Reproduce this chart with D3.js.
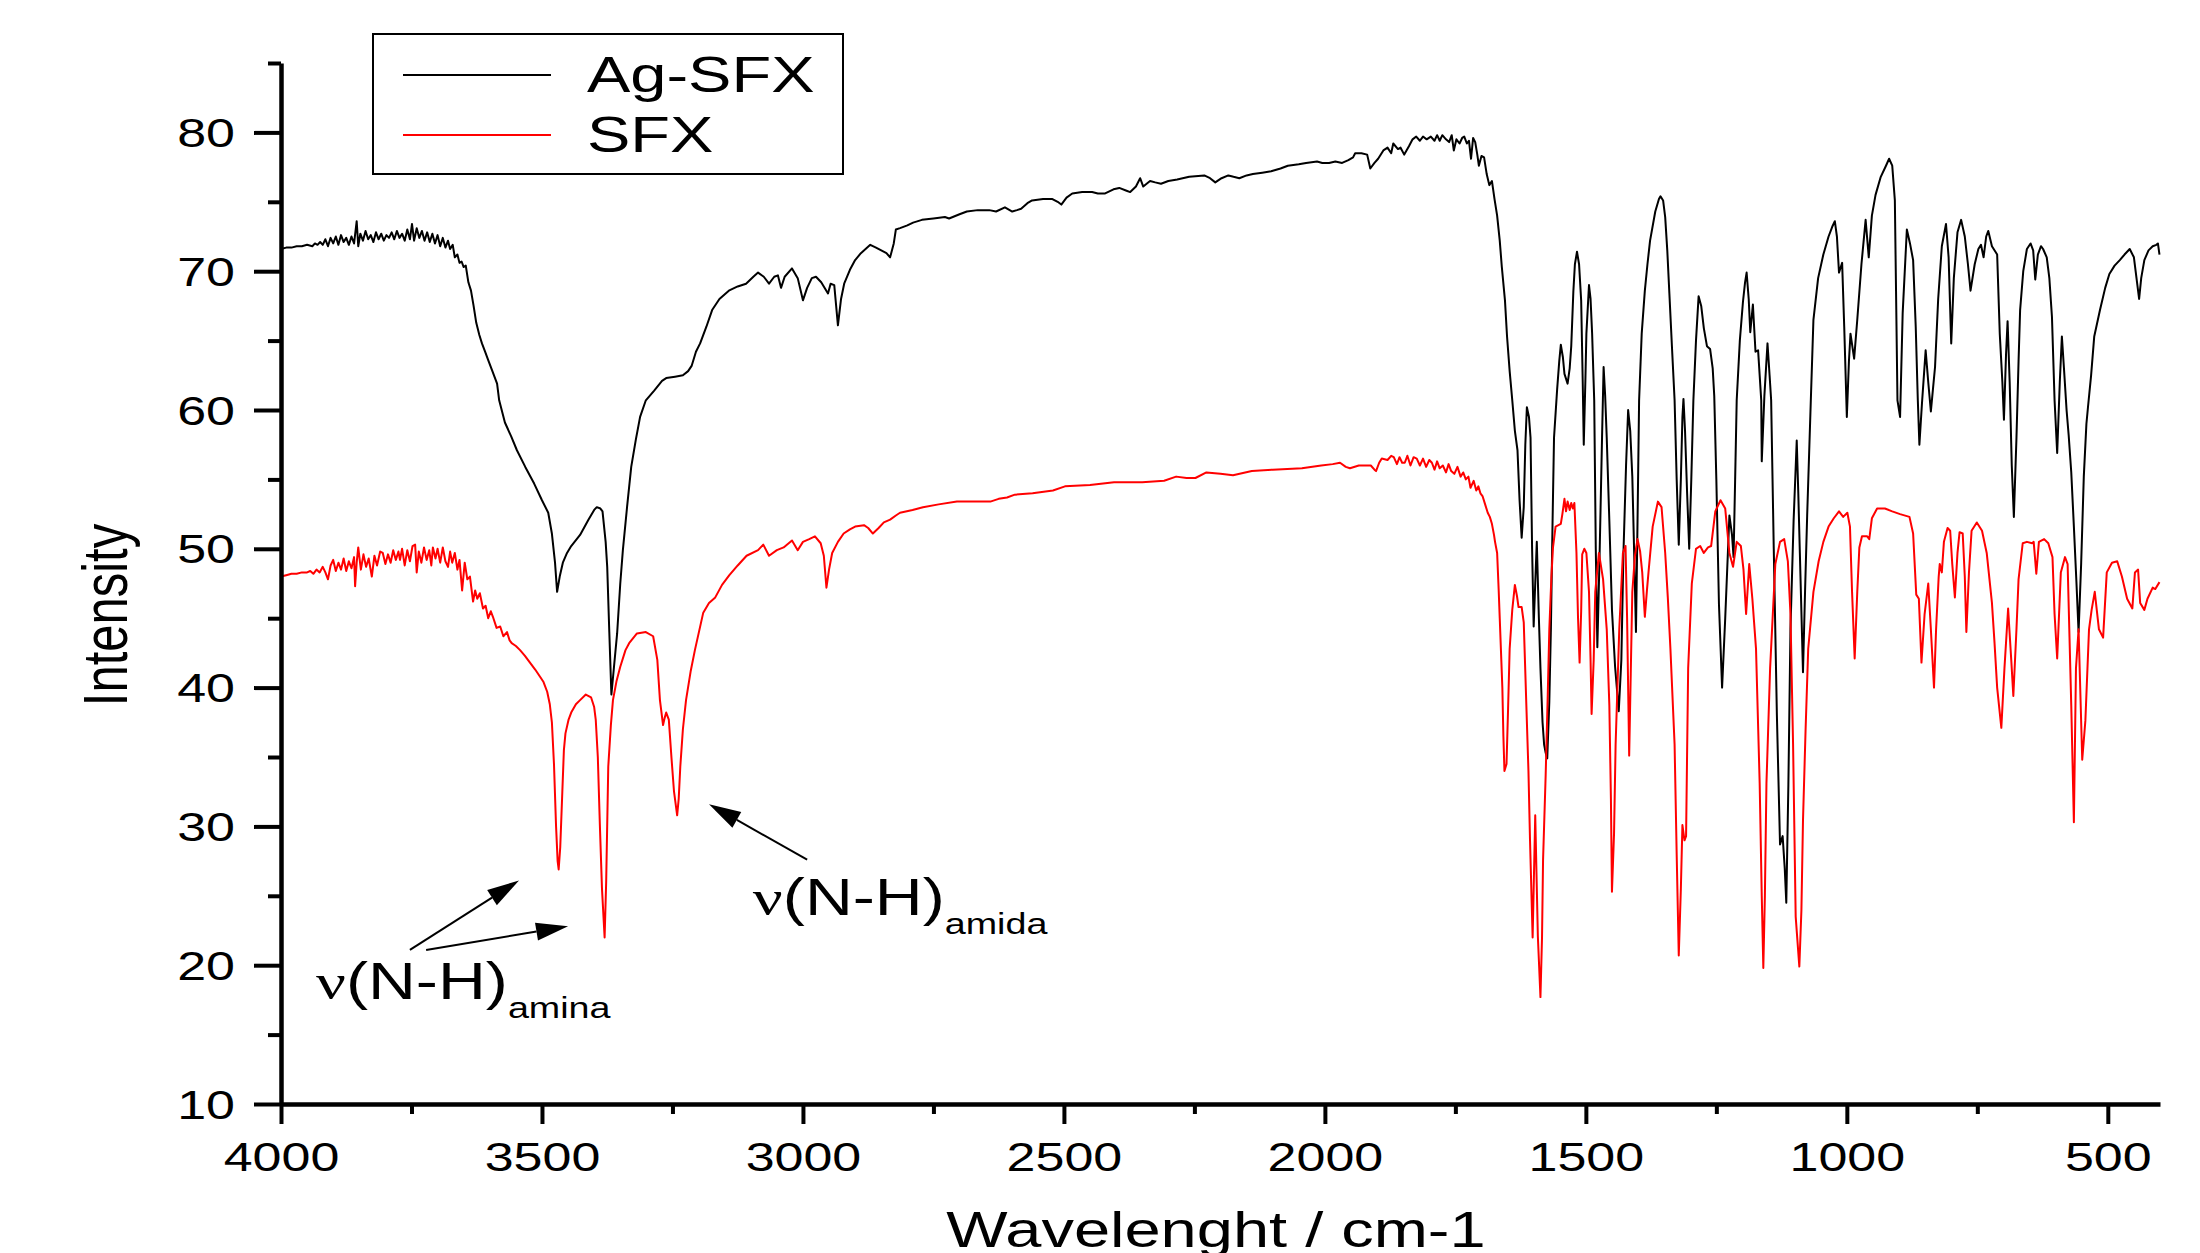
<!DOCTYPE html>
<html>
<head>
<meta charset="utf-8">
<script src="https://cdn.jsdelivr.net/npm/d3@7"></script>
<style>
  body { margin: 0; background: #fff; }
  text { font-family: "Liberation Sans", Arial, sans-serif; fill: #000; }
</style>
</head>
<body>
<svg id="chart" width="2200" height="1253"></svg>
<script>
// IR spectra, [wavenumber cm-1, intensity]
const agSFX = [
  [4000,71.6],[3990,71.7],[3980,71.7],[3970,71.8],[3960,71.8],[3950,71.9],[3940,71.8],[3935,72.0],[3930,71.9],[3925,72.1],
  [3920,71.9],[3915,72.3],[3910,71.8],[3905,72.4],[3900,72.0],[3895,72.5],[3890,71.9],[3885,72.6],[3880,72.1],[3875,72.4],
  [3870,71.9],[3865,72.5],[3860,72.0],[3855,73.6],[3852,71.8],[3848,72.7],[3843,72.2],[3838,72.9],[3833,72.3],[3828,72.6],
  [3823,72.1],[3818,72.8],[3813,72.3],[3808,72.7],[3803,72.2],[3798,72.6],[3793,72.4],[3788,72.8],[3783,72.3],[3778,72.9],
  [3773,72.4],[3768,72.7],[3763,72.2],[3758,73.0],[3753,72.3],[3749,73.4],[3745,72.2],[3740,73.1],[3735,72.4],[3730,72.9],
  [3725,72.2],[3720,72.8],[3715,72.1],[3710,72.7],[3705,72.0],[3700,72.6],[3695,71.8],[3690,72.4],[3685,71.7],[3680,72.2],
  [3676,71.6],[3671,71.9],[3667,71.0],[3662,71.2],[3658,70.6],[3654,70.7],[3650,70.3],[3646,70.4],[3641,69.2],[3636,68.6],
  [3631,67.5],[3626,66.3],[3620,65.4],[3615,64.8],[3609,64.2],[3603,63.6],[3595,62.8],[3586,61.9],[3582,60.7],[3571,59.1],
  [3559,58.1],[3548,57.1],[3532,55.9],[3515,54.7],[3500,53.5],[3488,52.6],[3481,51.1],[3475,49.0],[3471,46.9],[3466,48.0],
  [3460,49.0],[3452,49.7],[3444,50.2],[3427,51.0],[3411,52.1],[3400,52.8],[3395,53.0],[3388,52.9],[3384,52.7],[3378,50.5],
  [3375,48.7],[3371,44.0],[3367,39.5],[3362,41.5],[3356,43.9],[3350,47.5],[3345,49.9],[3337,53.0],[3329,55.9],[3320,57.9],
  [3312,59.5],[3301,60.7],[3285,61.4],[3270,62.1],[3262,62.3],[3245,62.4],[3230,62.5],[3220,62.8],[3213,63.2],[3205,64.2],
  [3197,64.8],[3185,66.0],[3174,67.2],[3160,68.0],[3142,68.6],[3125,68.9],[3109,69.1],[3095,69.6],[3086,69.9],[3075,69.6],
  [3065,69.1],[3055,69.6],[3048,69.7],[3042,68.8],[3035,69.6],[3021,70.2],[3010,69.5],[3000,67.9],[2992,68.8],[2983,69.5],
  [2975,69.6],[2965,69.2],[2952,68.4],[2947,69.1],[2940,69.0],[2933,66.1],[2927,68.0],[2921,69.1],[2910,70.1],[2900,70.8],
  [2889,71.3],[2880,71.6],[2871,71.9],[2860,71.7],[2850,71.5],[2840,71.3],[2833,71.0],[2826,72.0],[2822,73.0],[2814,73.1],
  [2800,73.3],[2789,73.5],[2772,73.7],[2750,73.8],[2728,73.9],[2720,73.8],[2700,74.1],[2686,74.3],[2665,74.4],[2643,74.4],
  [2630,74.3],[2613,74.6],[2599,74.3],[2590,74.4],[2582,74.5],[2570,74.9],[2561,75.1],[2540,75.2],[2522,75.2],[2512,75.0],
  [2505,74.8],[2495,75.3],[2484,75.6],[2465,75.7],[2446,75.7],[2435,75.6],[2421,75.6],[2405,75.9],[2394,76.0],[2380,75.8],
  [2373,75.7],[2362,76.1],[2354,76.7],[2348,76.1],[2335,76.5],[2325,76.4],[2314,76.3],[2300,76.5],[2283,76.6],[2260,76.8],
  [2231,76.9],[2220,76.7],[2210,76.4],[2198,76.7],[2185,76.9],[2175,76.8],[2164,76.7],[2150,76.9],[2138,77.0],[2120,77.1],
  [2103,77.2],[2085,77.4],[2071,77.6],[2050,77.7],[2036,77.8],[2015,77.9],[2005,77.8],[1992,77.8],[1980,77.9],[1967,77.8],
  [1955,78.0],[1946,78.2],[1942,78.5],[1930,78.5],[1919,78.4],[1913,77.4],[1905,77.8],[1898,78.1],[1888,78.7],[1880,78.9],
  [1873,78.5],[1869,79.2],[1860,78.8],[1855,78.9],[1848,78.4],[1839,79.0],[1832,79.5],[1825,79.7],[1818,79.4],[1812,79.7],
  [1805,79.5],[1797,79.7],[1790,79.4],[1785,79.8],[1780,79.4],[1775,79.8],[1768,79.5],[1762,79.3],[1757,79.8],[1753,78.7],
  [1748,79.5],[1742,79.2],[1737,79.6],[1733,79.7],[1728,79.2],[1724,79.4],[1720,78.1],[1716,79.6],[1712,79.3],[1708,78.4],
  [1705,77.6],[1700,78.3],[1695,78.2],[1690,77.0],[1685,76.2],[1680,76.5],[1675,75.2],[1670,74.0],[1665,72.2],[1661,70.3],
  [1655,67.9],[1651,65.3],[1646,62.8],[1641,60.7],[1636,58.5],[1631,57.1],[1627,53.5],[1623,50.8],[1619,53.0],[1616,57.5],
  [1613,60.2],[1609,59.5],[1606,58.0],[1603,50.0],[1600,44.4],[1597,47.5],[1594,50.5],[1590,45.0],[1587,41.4],[1583,37.5],
  [1580,35.9],[1577,35.3],[1574,34.9],[1570,39.0],[1567,44.2],[1564,51.5],[1561,58.0],[1555,61.5],[1551,63.5],[1548,64.7],
  [1544,63.8],[1541,62.6],[1535,61.9],[1531,63.0],[1528,64.6],[1524,68.5],[1521,70.5],[1517,71.4],[1513,70.5],[1509,67.9],
  [1506,62.0],[1504,57.5],[1501,62.0],[1499,65.5],[1494,69.0],[1491,68.0],[1488,65.5],[1484,60.7],[1481,50.0],[1478,42.9],
  [1474,49.0],[1469,58.0],[1466,63.1],[1463,61.0],[1460,58.0],[1455,52.0],[1450,45.6],[1444,41.5],[1437,38.3],[1432,42.0],
  [1428,49.7],[1423,56.0],[1419,60.0],[1415,58.5],[1411,55.2],[1407,49.0],[1404,44.0],[1401,52.0],[1398,60.7],[1393,65.5],
  [1387,68.6],[1382,70.5],[1377,72.2],[1367,74.3],[1360,75.2],[1357,75.4],[1352,75.1],[1348,73.9],[1344,71.5],[1340,68.4],
  [1335,64.5],[1330,60.7],[1326,55.0],[1322,50.3],[1318,55.0],[1315,59.5],[1313,60.8],[1310,58.5],[1306,54.0],[1302,50.0],
  [1298,55.0],[1294,60.7],[1289,65.0],[1284,68.2],[1279,67.5],[1274,65.9],[1268,64.6],[1262,64.4],[1257,63.0],[1254,61.0],
  [1250,55.0],[1245,46.0],[1239,40.0],[1233,45.0],[1225,52.4],[1220,51.0],[1217,49.4],[1214,55.0],[1211,60.7],[1205,65.0],
  [1199,67.8],[1195,69.2],[1192,69.9],[1188,68.0],[1185,65.6],[1180,67.6],[1175,64.2],[1170,64.3],[1164,60.7],[1163,56.3],
  [1158,61.0],[1152,64.8],[1148,62.5],[1145,60.7],[1140,50.0],[1134,38.0],[1128,28.7],[1123,29.3],[1119,27.0],[1116,24.5],
  [1112,33.0],[1108,44.2],[1102,52.0],[1096,57.8],[1093,54.0],[1090,49.7],[1084,41.1],[1080,47.0],[1076,52.4],[1069,60.7],
  [1064,66.5],[1055,69.5],[1045,71.2],[1035,72.5],[1028,73.2],[1023,73.6],[1019,72.5],[1015,69.9],[1009,70.6],[1005,66.0],
  [1000,59.5],[996,63.5],[993,65.5],[986,63.7],[980,66.5],[972,70.5],[964,73.7],[958,71.0],[952,74.0],[945,75.5],
  [935,76.8],[925,77.6],[919,78.1],[913,77.6],[908,75.1],[903,60.7],[898,59.5],[893,67.0],[885,73.0],[879,72.0],
  [873,70.8],[868,66.0],[864,60.7],[861,57.5],[856,60.5],[849,64.3],[844,62.0],[839,59.9],[835,61.5],[831,63.1],
  [825,68.0],[818,71.8],[810,73.4],[805,71.0],[800,64.8],[795,69.5],[788,72.8],[781,73.7],[774,72.5],[768,70.5],
  [763,68.6],[755,70.5],[748,71.6],[743,71.9],[738,71.0],[733,72.5],[729,72.9],[722,71.8],[712,71.2],[707,65.5],
  [702,62.0],[699,59.3],[695,64.0],[692,66.4],[688,62.0],[684,56.0],[680,52.3],[675,58.0],[671,63.5],[668,67.2],
  [662,70.0],[655,71.6],[648,72.0],[643,71.5],[639,69.4],[634,71.2],[628,71.8],[624,71.6],[617,71.0],[612,69.5],
  [607,66.7],[602,60.7],[597,56.9],[592,62.0],[588,65.3],[584,63.0],[579,60.0],[575,58.2],[570,55.5],[565,51.6],
  [560,47.5],[556,44.0],[551,49.0],[546,55.2],[541,59.0],[538,60.2],[532,62.5],[526,65.3],[515,67.2],[505,68.8],
  [497,69.8],[487,70.4],[477,70.8],[468,71.2],[458,71.6],[450,71.0],[444,69.2],[440,68.0],[436,69.5],[430,70.8],
  [422,71.5],[414,71.8],[407,71.9],[404,72.0],[401,71.2]
];

const sfx = [
  [4000,48.0],[3990,48.1],[3980,48.2],[3970,48.2],[3960,48.3],[3950,48.3],[3944,48.4],[3938,48.2],[3932,48.5],[3926,48.3],
  [3920,48.7],[3915,48.3],[3910,47.8],[3905,48.8],[3900,49.2],[3895,48.4],[3890,49.0],[3885,48.5],[3880,49.3],[3875,48.4],
  [3870,49.1],[3865,48.6],[3860,49.4],[3858,47.3],[3855,49.0],[3852,50.1],[3847,48.5],[3842,49.6],[3837,48.7],[3832,49.3],
  [3826,48.0],[3821,49.5],[3816,48.8],[3810,49.8],[3805,49.7],[3800,48.9],[3795,49.6],[3790,49.0],[3785,49.9],[3780,49.2],
  [3775,49.8],[3772,49.2],[3768,50.0],[3763,48.8],[3758,49.9],[3753,49.1],[3748,50.2],[3743,50.3],[3740,48.3],[3736,49.8],
  [3731,49.0],[3726,50.1],[3721,49.2],[3716,49.9],[3712,48.8],[3709,50.1],[3704,49.3],[3700,50.0],[3695,49.0],[3690,50.1],
  [3685,49.1],[3680,48.7],[3676,49.8],[3672,49.0],[3667,49.7],[3662,48.5],[3658,49.2],[3653,47.0],[3648,49.0],[3643,47.8],
  [3638,48.0],[3632,46.2],[3628,47.0],[3624,46.4],[3619,46.8],[3613,45.7],[3608,45.9],[3603,45.0],[3598,45.5],[3594,45.1],
  [3587,44.3],[3580,44.4],[3574,43.7],[3567,44.0],[3562,43.4],[3558,43.2],[3550,43.0],[3542,42.7],[3533,42.3],[3523,41.8],
  [3513,41.3],[3504,40.8],[3497,40.4],[3490,39.7],[3485,38.8],[3481,37.5],[3477,34.5],[3473,30.0],[3470,27.5],[3468,26.9],
  [3465,28.5],[3461,32.5],[3458,35.5],[3455,36.7],[3449,37.7],[3444,38.2],[3435,38.8],[3427,39.1],[3416,39.5],[3406,39.3],
  [3400,38.6],[3397,37.7],[3393,35.0],[3389,30.0],[3385,25.5],[3380,22.0],[3377,26.0],[3373,34.3],[3368,37.3],[3364,39.1],
  [3357,40.5],[3350,41.5],[3340,42.7],[3333,43.2],[3318,43.9],[3301,44.0],[3287,43.7],[3279,42.0],[3274,39.1],[3268,37.3],
  [3265,37.8],[3262,38.2],[3257,37.7],[3252,35.0],[3247,32.5],[3241,30.8],[3238,32.0],[3235,34.3],[3230,37.0],[3224,39.1],
  [3215,41.2],[3207,42.7],[3191,45.4],[3180,46.1],[3168,46.5],[3155,47.4],[3141,48.1],[3125,48.8],[3108,49.5],[3086,49.9],
  [3076,50.3],[3065,49.5],[3050,49.9],[3037,50.1],[3021,50.6],[3010,49.9],[3000,50.5],[2988,50.7],[2977,50.9],[2966,50.4],
  [2960,49.5],[2955,47.2],[2950,48.5],[2944,49.7],[2933,50.5],[2922,51.1],[2910,51.4],[2900,51.6],[2883,51.7],[2875,51.5],
  [2866,51.1],[2855,51.5],[2845,51.9],[2833,52.1],[2822,52.4],[2814,52.6],[2790,52.8],[2770,53.0],[2740,53.2],[2705,53.4],
  [2670,53.4],[2641,53.4],[2625,53.6],[2609,53.7],[2594,53.9],[2560,54.0],[2521,54.2],[2498,54.5],[2450,54.6],[2404,54.8],
  [2350,54.8],[2308,54.9],[2285,55.2],[2265,55.1],[2248,55.1],[2227,55.5],[2200,55.4],[2176,55.3],[2140,55.6],[2100,55.7],
  [2044,55.8],[2007,56.0],[1985,56.1],[1971,56.2],[1960,55.9],[1952,55.8],[1935,56.0],[1912,56.0],[1905,55.7],[1902,55.6],
  [1896,56.2],[1891,56.5],[1880,56.4],[1873,56.7],[1868,56.6],[1862,56.1],[1857,56.6],[1852,56.2],[1847,56.2],[1842,56.7],
  [1836,56.0],[1830,56.6],[1824,56.5],[1818,56.0],[1812,56.5],[1806,55.9],[1800,56.4],[1795,56.2],[1790,55.7],[1785,56.3],
  [1780,55.8],[1774,56.0],[1768,55.5],[1763,56.1],[1758,55.6],[1752,55.4],[1746,55.9],[1740,55.2],[1735,55.5],[1730,55.0],
  [1725,55.2],[1721,54.4],[1715,54.9],[1710,54.2],[1706,54.5],[1702,54.0],[1698,53.8],[1693,53.2],[1688,52.6],[1684,52.3],
  [1680,51.8],[1676,51.0],[1674,50.5],[1670,49.7],[1667,47.0],[1665,45.0],[1662,42.0],[1660,40.0],[1658,36.5],[1656,34.0],
  [1652,34.5],[1649,38.5],[1646,42.8],[1641,45.6],[1636,47.4],[1632,46.6],[1629,45.8],[1623,45.8],[1619,44.7],[1614,38.7],
  [1610,34.0],[1607,29.0],[1602,22.0],[1597,30.8],[1592,22.1],[1587,17.7],[1584,22.0],[1582,27.6],[1577,33.7],[1573,39.5],
  [1570,44.2],[1566,48.0],[1563,50.1],[1558,51.6],[1548,51.8],[1545,52.5],[1541,53.6],[1538,52.7],[1535,53.4],[1531,52.8],
  [1528,53.3],[1525,52.9],[1522,53.3],[1518,49.7],[1515,45.0],[1512,41.8],[1509,45.5],[1507,49.6],[1503,50.0],[1499,49.7],
  [1494,46.9],[1491,42.0],[1489,38.1],[1485,42.0],[1482,46.9],[1475,49.7],[1467,47.8],[1460,44.2],[1455,38.7],[1452,32.0],
  [1450,25.3],[1446,29.5],[1443,35.9],[1436,44.2],[1429,49.7],[1424,50.2],[1421,45.0],[1417,35.1],[1414,41.0],[1411,46.9],
  [1406,49.5],[1401,50.7],[1396,49.8],[1392,48.3],[1387,45.1],[1383,47.0],[1380,48.3],[1372,51.6],[1362,53.4],[1355,53.0],
  [1348,49.7],[1343,46.5],[1338,42.8],[1330,35.9],[1326,28.0],[1322,20.7],[1318,25.5],[1315,30.1],[1311,29.0],[1308,29.3],
  [1304,41.4],[1297,47.5],[1289,50.0],[1281,50.2],[1274,49.7],[1266,50.1],[1260,50.2],[1252,52.7],[1242,53.5],[1233,52.9],
  [1225,49.7],[1218,48.7],[1211,50.5],[1203,50.2],[1198,48.5],[1193,45.3],[1187,48.9],[1181,46.4],[1174,42.8],[1167,33.1],
  [1163,25.0],[1160,19.8],[1157,25.0],[1154,33.1],[1147,41.4],[1137,48.9],[1128,50.5],[1120,50.7],[1113,49.1],[1108,45.3],
  [1103,35.9],[1098,23.5],[1091,19.9],[1087,24.0],[1084,30.4],[1079,37.0],[1074,42.8],[1064,46.9],[1054,49.1],[1045,50.5],
  [1035,51.6],[1025,52.2],[1015,52.7],[1007,52.3],[999,52.6],[994,51.6],[990,46.9],[985,42.1],[980,46.9],[976,50.1],
  [971,50.9],[961,50.9],[957,50.7],[952,52.2],[942,52.9],[927,52.9],[913,52.7],[898,52.5],[880,52.3],[873,51.1],
  [867,46.7],[862,46.4],[857,41.8],[851,45.3],[844,47.5],[839,44.2],[833,40.0],[829,44.2],[824,48.0],[822,48.9],
  [818,48.3],[814,50.5],[807,51.5],[802,51.3],[798,48.9],[793,46.5],[788,49.7],[784,51.2],[778,51.1],[774,48.0],
  [771,44.0],[766,48.3],[761,51.3],[751,51.9],[741,51.3],[732,49.7],[722,46.1],[717,43.2],[712,40.0],[704,37.1],
  [698,41.4],[691,45.7],[685,42.0],[681,39.4],[675,44.2],[671,47.8],[663,50.4],[655,50.5],[645,50.4],[642,50.5],
  [637,48.2],[632,50.5],[622,50.7],[614,50.4],[606,49.4],[602,45.3],[597,42.1],[590,48.3],[582,49.4],[577,48.9],
  [570,38.7],[565,30.3],[561,41.4],[556,44.2],[549,34.8],[543,37.6],[536,44.2],[531,45.6],[525,46.9],[517,44.2],
  [509,43.6],[502,48.3],[492,49.0],[482,49.1],[473,48.0],[463,46.4],[453,45.7],[448,48.3],[442,48.5],[438,46.1],
  [430,45.6],[424,46.4],[414,47.2],[409,47.1],[401,47.6]
];

const seriesNames = ["Ag-SFX", "SFX"];
const seriesColors = ["#000000", "#ff0000"];

const xMajor = [4000, 3500, 3000, 2500, 2000, 1500, 1000, 500];
const xMinor = [3750, 3250, 2750, 2250, 1750, 1250, 750];
const yMajor = [10, 20, 30, 40, 50, 60, 70, 80];
const yMinor = [15, 25, 35, 45, 55, 65, 75, 85];

// annotation anchors in data units: text start, arrows [from, to]
const noteLabels = ["amina", "amida"];
const noteText = [[3933, 17.6], [3096, 23.6]];
const noteArrows = [
  [[[3753, 21.1], [3544, 26.1]], [[3722, 21.1], [3450, 22.8]]],
  [[[2992, 27.6], [3180, 31.6]]]
];

const SX = 1.3; // the original figure is stretched sideways

const svg = d3.select("#chart");

const x = d3.scaleLinear().domain([4000, 400]).range([281, 2160]);
const y = d3.scaleLinear().domain([10, 85]).range([1104, 63]);

// spectra
const line = d3.line().x(d => x(d[0])).y(d => y(d[1]));
[agSFX, sfx].forEach((s, i) => {
  svg.append("path")
    .datum(s)
    .attr("fill", "none")
    .attr("stroke", seriesColors[i])
    .attr("stroke-width", 2)
    .attr("stroke-linejoin", "round")
    .attr("d", line);
});

// x axis
const xAxisG = svg.append("g").attr("transform", "translate(0,1104)");
xAxisG.append("g")
  .call(d3.axisBottom(x).tickValues(xMinor).tickSize(10).tickSizeOuter(0).tickFormat(""))
  .call(g => g.select(".domain").remove());
xAxisG.append("g")
  .call(d3.axisBottom(x).tickValues(xMajor).tickSize(20).tickSizeOuter(0).tickFormat(d3.format("d")));
xAxisG.selectAll(".domain").attr("stroke-width", 4.5);
xAxisG.selectAll(".tick line").attr("stroke-width", 4);
xAxisG.selectAll(".tick text")
  .attr("y", 0).attr("dy", null)
  .attr("transform", `translate(0,67) scale(${SX},1)`)
  .attr("font-size", 40)
  .attr("font-family", "Liberation Sans, Arial, sans-serif")
  .attr("fill", "#000");

// y axis
const yAxisG = svg.append("g").attr("transform", "translate(281,0)");
yAxisG.append("g")
  .call(d3.axisLeft(y).tickValues(yMinor).tickSize(13).tickSizeOuter(0).tickFormat(""))
  .call(g => g.select(".domain").remove());
yAxisG.append("g")
  .call(d3.axisLeft(y).tickValues(yMajor).tickSize(27).tickSizeOuter(0).tickFormat(d3.format("d")));
yAxisG.selectAll(".domain").attr("stroke-width", 4.5);
yAxisG.selectAll(".tick line").attr("stroke-width", 4);
yAxisG.selectAll(".tick text")
  .attr("x", 0).attr("dy", null)
  .attr("transform", `translate(-46,14) scale(${SX},1)`)
  .attr("font-size", 40)
  .attr("font-family", "Liberation Sans, Arial, sans-serif")
  .attr("fill", "#000");

// axis titles
svg.append("text")
  .attr("transform", `translate(1216,1247) scale(${SX},1)`)
  .attr("text-anchor", "middle")
  .attr("font-size", 50)
  .text("Wavelenght / cm-1");

svg.append("text")
  .attr("transform", `translate(127,615) scale(${SX},1) rotate(-90)`)
  .attr("text-anchor", "middle")
  .attr("font-size", 49)
  .text("Intensity");

// legend
const legend = svg.append("g");
legend.append("rect")
  .attr("x", 373).attr("y", 34).attr("width", 470).attr("height", 140)
  .attr("fill", "#fff").attr("stroke", "#000").attr("stroke-width", 2);
seriesNames.forEach((name, i) => {
  const ly = 75 + i * 60;
  legend.append("line")
    .attr("x1", 403).attr("x2", 551).attr("y1", ly).attr("y2", ly)
    .attr("stroke", seriesColors[i]).attr("stroke-width", 2);
  legend.append("text")
    .attr("transform", `translate(587,${ly + 17}) scale(${SX},1)`)
    .attr("font-size", 50)
    .text(name);
});

// annotations
const notes = svg.append("g");
noteLabels.forEach((lab, i) => {
  const t = notes.append("text")
    .attr("transform", `translate(${x(noteText[i][0])},${y(noteText[i][1])}) scale(${SX},1)`)
    .attr("font-size", 51);
  t.append("tspan").attr("font-family", "Liberation Serif, serif").text("\u03bd");
  t.append("tspan").text("(N-H)");
  t.append("tspan").attr("font-size", 29).attr("dy", 19).text(lab);

  noteArrows[i].forEach(a => {
    const x1 = x(a[0][0]), y1 = y(a[0][1]), x2 = x(a[1][0]), y2 = y(a[1][1]);
    const ang = Math.atan2(y2 - y1, x2 - x1);
    const len = 32, hw = 9;
    const bx = x2 - len * Math.cos(ang), by = y2 - len * Math.sin(ang);
    notes.append("line")
      .attr("x1", x1).attr("y1", y1).attr("x2", bx).attr("y2", by)
      .attr("stroke", "#000").attr("stroke-width", 2);
    const px = -Math.sin(ang) * hw, py = Math.cos(ang) * hw;
    notes.append("polygon")
      .attr("points", `${x2},${y2} ${bx + px},${by + py} ${bx - px},${by - py}`)
      .attr("fill", "#000");
  });
});
</script>
</body>
</html>
